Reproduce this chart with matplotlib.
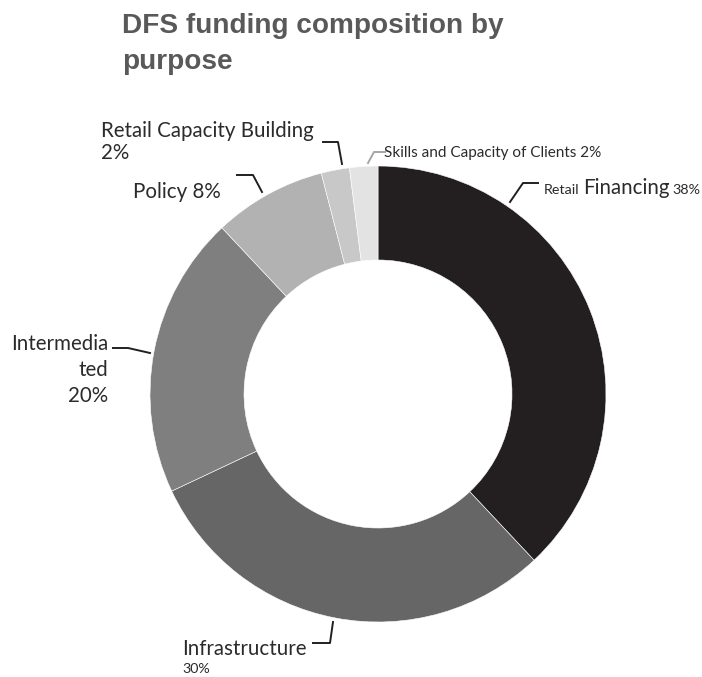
import matplotlib.pyplot as plt

# Доли финансирования по назначению, %
purposes = ['Retail Financing', 'Infrastructure', 'Intermediated', 'Policy',
            'Retail Capacity Building', 'Skills and Capacity of Clients']
shares = [38, 30, 20, 8, 2, 2]
colors = ['#231f20', '#666666', '#7f7f7f', '#b2b2b2', '#c8c8c8', '#e3e3e3']

plt.rcParams['font.family'] = ['Lato', 'DejaVu Sans']
txt = '#2b2b2b'
big = 14.8
small = 10.3

fig = plt.figure(figsize=(7.02, 6.77), dpi=100)
ax = fig.add_axes([0, 0, 1, 1])

# Кольцевая диаграмма (ось y перевёрнута, поэтому counterclock=True идёт по часовой)
ax.pie(shares, colors=colors, center=(378, 394), radius=228,
       startangle=270, counterclock=True, frame=True,
       wedgeprops=dict(width=94, edgecolor='white', linewidth=0.4))

ax.set_xlim(0, 702)
ax.set_ylim(677, 0)
ax.set_aspect('auto')
ax.axis('off')


def line(x, y, s, size, **kw):
    ax.text(x, y, s, fontsize=size, color=kw.pop('color', txt),
            va='baseline', **kw)


# Заголовок
title_font = dict(fontweight='bold', family=['Liberation Sans', 'DejaVu Sans'],
                  color='#595959')
line(122, 33, 'DFS funding composition by', 20.2, **title_font)
line(122, 69, 'purpose', 20.2, **title_font)

# Выноски
lw = 1.4
ax.plot([510, 523, 538], [202, 183, 183], color='#231f20', lw=lw)
ax.plot([368, 374, 385], [163, 152, 152], color='#a6a6a6', lw=lw)
ax.plot([323, 338, 342], [142, 142, 164], color='#231f20', lw=lw)
ax.plot([237, 253, 262], [175, 175, 192], color='#231f20', lw=lw)
ax.plot([113, 128, 150], [348, 348, 353], color='#231f20', lw=lw)
ax.plot([313, 330, 333], [643, 643, 622], color='#231f20', lw=lw)

# Подписи
line(544, 194, 'Retail', small)
line(583, 194, 'Financing', big)
line(672, 194, f'{shares[0]}%', small)

line(384, 157, f'{purposes[5]} {shares[5]}%', 11)
line(101, 137, purposes[4], big)
line(101, 159, f'{shares[4]}%', big)
line(133, 198, f'{purposes[3]} {shares[3]}%', big)
line(108, 350, 'Intermedia', big, ha='right')
line(108, 376, 'ted', big, ha='right')
line(108, 402, f'{shares[2]}%', big, ha='right')
line(182, 655, purposes[1], big)
line(182, 673, f'{shares[1]}%', small)

plt.savefig('out.png', dpi=100)
